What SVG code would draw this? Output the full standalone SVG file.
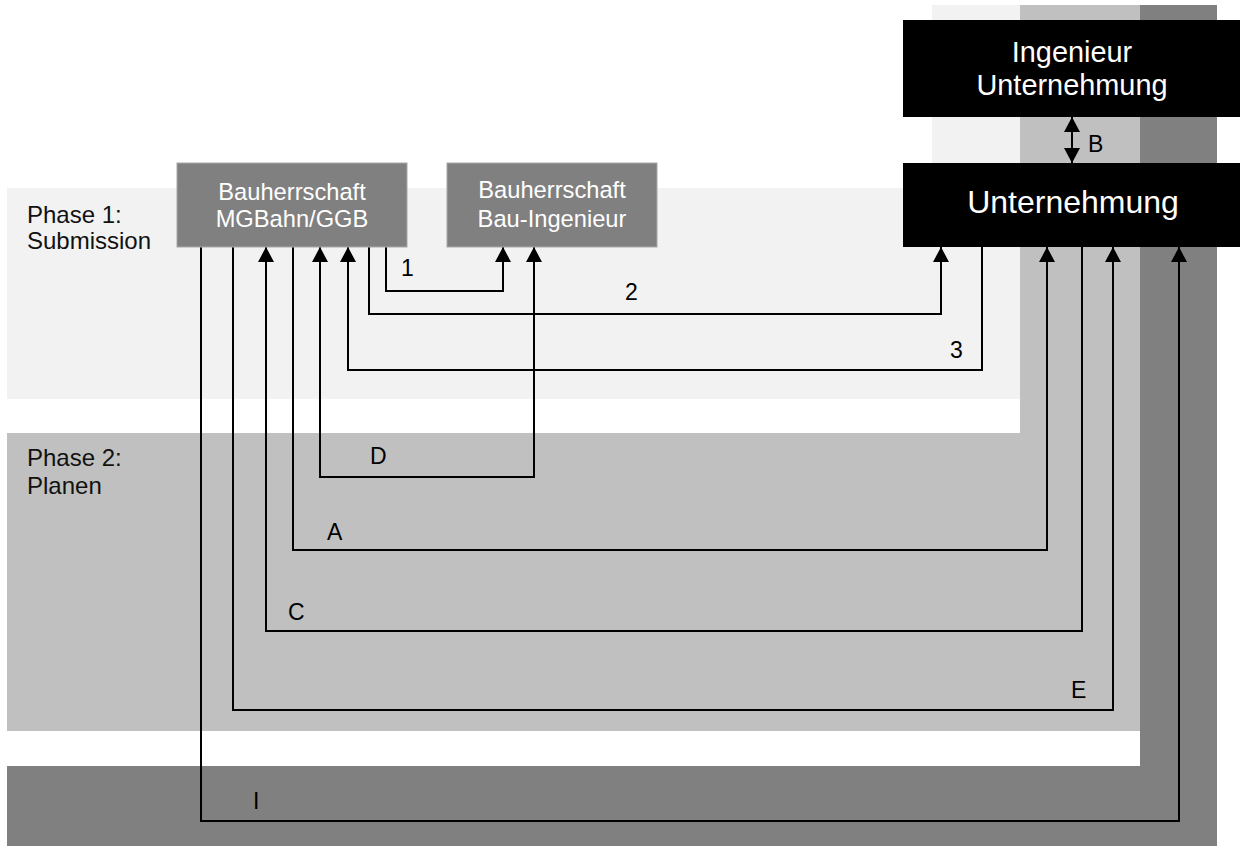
<svg xmlns="http://www.w3.org/2000/svg" width="1243" height="846" viewBox="0 0 1243 846">
<style>
.lbl{font-family:"Liberation Sans",Arial,sans-serif;fill:#000;font-size:23px}
.ph{font-family:"Liberation Sans",Arial,sans-serif;fill:#111;font-size:24px}
.bt{font-family:"Liberation Sans",Arial,sans-serif;fill:#fff;text-anchor:middle}
.con{fill:none;stroke:#000;stroke-width:2}
.gbox{fill:#808080;stroke:#a8a8a8;stroke-width:1}
.kbox{fill:#000}
</style>
<defs>
<marker id="ah" viewBox="0 0 15 16" refX="15" refY="8" markerWidth="15" markerHeight="16" markerUnits="userSpaceOnUse" orient="auto-start-reverse">
<path d="M0,0 L15,8 L0,16 z" fill="#000"/>
</marker>
</defs>
<g id="background">
<rect x="7" y="188" width="1013" height="211" fill="#f2f2f2"/>
<rect x="932" y="5" width="88" height="394" fill="#f2f2f2"/>
<rect x="7" y="433" width="1133" height="298" fill="#c0c0c0"/>
<rect x="1020" y="5" width="120" height="428" fill="#c0c0c0"/>
<rect x="7" y="766" width="1210" height="80" fill="#808080"/>
<rect x="1140" y="5" width="77" height="761" fill="#808080"/>
</g>
<g id="phase-labels">
<text class="ph" x="27" y="223">Phase 1:</text>
<text class="ph" x="27" y="249">Submission</text>
<text class="ph" x="27" y="466">Phase 2:</text>
<text class="ph" x="27" y="494">Planen</text>
</g>
<g id="connectors">
<path class="con" d="M386,247 V291 H503 V247" marker-end="url(#ah)"/>
<path class="con" d="M369,247 V314 H941 V247" marker-end="url(#ah)"/>
<path class="con" d="M982,247 V370 H348 V247" marker-end="url(#ah)"/>
<path class="con" d="M534,247 V477 H320 V247" marker-start="url(#ah)" marker-end="url(#ah)"/>
<path class="con" d="M293,247 V550 H1047 V247" marker-end="url(#ah)"/>
<path class="con" d="M1082,247 V631 H266 V247" marker-end="url(#ah)"/>
<path class="con" d="M233,247 V710 H1113 V247" marker-end="url(#ah)"/>
<path class="con" d="M201,247 V821 H1179 V247" marker-end="url(#ah)"/>
<path class="con" d="M1072,117 V163" marker-start="url(#ah)" marker-end="url(#ah)"/>
<text class="lbl" x="401" y="276">1</text>
<text class="lbl" x="625" y="300">2</text>
<text class="lbl" x="950" y="358">3</text>
<text class="lbl" x="370" y="464">D</text>
<text class="lbl" x="327" y="540">A</text>
<text class="lbl" x="288" y="620">C</text>
<text class="lbl" x="1071" y="698">E</text>
<text class="lbl" x="253" y="809">I</text>
<text class="lbl" x="1088" y="152">B</text>
</g>
<g id="node-mgbahn">
<rect class="gbox" x="177" y="163" width="230" height="84"/>
<text class="bt" x="292" y="200" font-size="23.7">Bauherrschaft</text>
<text class="bt" x="292" y="227" font-size="23.7">MGBahn/GGB</text>
</g>
<g id="node-bauing">
<rect class="gbox" x="447" y="163" width="210" height="84"/>
<text class="bt" x="552" y="198" font-size="23.7">Bauherrschaft</text>
<text class="bt" x="552" y="227" font-size="23.7">Bau-Ingenieur</text>
</g>
<g id="node-ingenieur">
<rect class="kbox" x="903" y="20" width="337" height="97"/>
<text class="bt" x="1072" y="62" font-size="28.9">Ingenieur</text>
<text class="bt" x="1072" y="95" font-size="28.9">Unternehmung</text>
</g>
<g id="node-unternehmung">
<rect class="kbox" x="903" y="163" width="337" height="84"/>
<text class="bt" x="1073" y="213" font-size="32">Unternehmung</text>
</g>
</svg>
